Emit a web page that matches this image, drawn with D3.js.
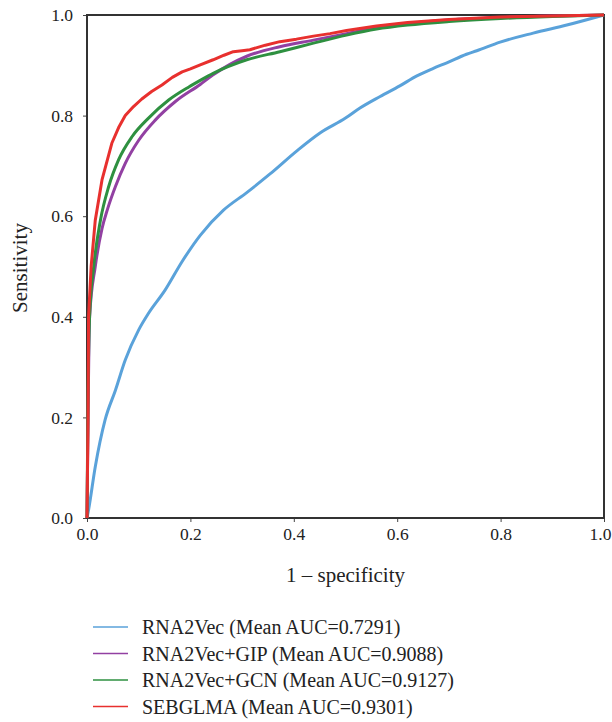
<!DOCTYPE html>
<html>
<head>
<meta charset="utf-8">
<script src="https://cdn.jsdelivr.net/npm/d3@7"></script>
<style>
  body { margin: 0; background: #fff; }
  svg text { font-family: "Liberation Serif", "DejaVu Serif", serif; fill: #222; }
</style>
</head>
<body>
<div id="chart"></div>
<script>
// ROC curves as [1 - specificity, sensitivity]
const rna2vec = [[0,0],[0.003,0.016],[0.016,0.102],[0.035,0.195],[0.055,0.254],[0.074,0.314],
  [0.100,0.374],[0.119,0.407],[0.151,0.453],[0.184,0.510],[0.219,0.562],[0.264,0.612],
  [0.309,0.647],[0.354,0.684],[0.406,0.730],[0.45,0.765],[0.50,0.795],[0.528,0.815],
  [0.567,0.838],[0.605,0.859],[0.638,0.879],[0.670,0.894],[0.696,0.905],[0.734,0.922],
  [0.754,0.929],[0.799,0.946],[0.863,0.964],[0.928,0.980],[1,1]];
const rna2vecGip = [[0,0],[0.002,0.2],[0.005,0.4],[0.016,0.5],[0.029,0.575],[0.040,0.615],
  [0.055,0.659],[0.074,0.705],[0.100,0.751],[0.132,0.791],[0.171,0.828],[0.219,0.862],
  [0.244,0.881],[0.309,0.918],[0.373,0.937],[0.438,0.950],[0.502,0.963],[0.560,0.975],
  [0.62,0.983],[0.70,0.990],[0.80,0.995],[0.90,0.998],[1,1]];
const rna2vecGcn = [[0,0],[0.002,0.25],[0.005,0.4],[0.013,0.5],[0.026,0.592],[0.042,0.659],
  [0.061,0.712],[0.087,0.758],[0.119,0.795],[0.158,0.831],[0.197,0.857],[0.219,0.870],
  [0.244,0.884],[0.309,0.911],[0.373,0.927],[0.438,0.944],[0.502,0.960],[0.560,0.972],
  [0.62,0.980],[0.70,0.987],[0.80,0.993],[0.90,0.997],[1,1]];
const sebglma = [[0,0],[0.002,0.2],[0.003,0.4],[0.008,0.5],[0.016,0.592],[0.029,0.672],
  [0.048,0.745],[0.062,0.778],[0.074,0.800],[0.090,0.818],[0.106,0.833],[0.125,0.848],
  [0.145,0.861],[0.165,0.876],[0.184,0.887],[0.200,0.893],[0.219,0.901],[0.244,0.911],
  [0.265,0.920],[0.283,0.927],[0.300,0.929],[0.315,0.931],[0.345,0.940],[0.373,0.947],
  [0.405,0.952],[0.438,0.958],[0.470,0.963],[0.502,0.969],[0.560,0.978],[0.62,0.985],
  [0.70,0.991],[0.80,0.996],[0.90,0.998],[1,1]];

const seriesNames = ["RNA2Vec (Mean AUC=0.7291)", "RNA2Vec+GIP (Mean AUC=0.9088)",
  "RNA2Vec+GCN (Mean AUC=0.9127)", "SEBGLMA (Mean AUC=0.9301)"];
const seriesData = [rna2vec, rna2vecGip, rna2vecGcn, sebglma];
const seriesColors = ["#5aa2da", "#9240a2", "#2e9040", "#e8302e"];
const tickValues = [0, 0.2, 0.4, 0.6, 0.8, 1.0];

const W = 612, H = 722;
const margin = { top: 15, right: 8, bottom: 204, left: 87 };
const width = W - margin.left - margin.right,
      height = H - margin.top - margin.bottom;

const svg = d3.select("#chart").append("svg")
  .attr("width", W)
  .attr("height", H);

const g = svg.append("g")
  .attr("transform", `translate(${margin.left},${margin.top})`);

const x = d3.scaleLinear().domain([0, 1]).range([0, width]);
const y = d3.scaleLinear().domain([0, 1]).range([height, 0]);

// axes
const xAxis = g.append("g")
  .attr("transform", `translate(0,${height})`)
  .call(d3.axisBottom(x).tickValues(tickValues).tickFormat(d3.format(".1f")).tickSize(4).tickPadding(6));
const yAxis = g.append("g")
  .call(d3.axisLeft(y).tickValues(tickValues).tickFormat(d3.format(".1f")).tickSize(4).tickPadding(10));

[xAxis, yAxis].forEach(a => {
  a.select(".domain").remove();
  a.selectAll("line").attr("stroke", "#444");
  a.selectAll("text").style("font-size", "17.5px").style("fill", "#222");
});
// last x label sits at the window edge, nudge it in a little
xAxis.selectAll(".tick text").filter(d => d === 1).attr("dx", "-4");

// frame
g.append("rect")
  .attr("width", width)
  .attr("height", height)
  .attr("fill", "none")
  .attr("stroke", "#333")
  .attr("stroke-width", 2);

// curves
const line = d3.line()
  .x(d => x(d[0]))
  .y(d => y(d[1]));

seriesData.forEach((s, i) => {
  g.append("path")
    .datum(s)
    .attr("fill", "none")
    .attr("stroke", seriesColors[i])
    .attr("stroke-width", 3)
    .attr("stroke-linejoin", "round")
    .attr("d", line.curve(i === 3 ? d3.curveLinear : d3.curveMonotoneX));
});

// axis titles
svg.append("text")
  .attr("x", margin.left + width / 2)
  .attr("y", 582)
  .attr("text-anchor", "middle")
  .style("font-size", "21px")
  .text("1 – specificity");

svg.append("text")
  .attr("transform", `translate(27,268) rotate(-90)`)
  .attr("text-anchor", "middle")
  .style("font-size", "21px")
  .text("Sensitivity");

// legend
const legend = svg.append("g").attr("transform", "translate(93,627)");
seriesNames.forEach((name, i) => {
  const row = legend.append("g").attr("transform", `translate(0,${i * 26.5})`);
  row.append("line")
    .attr("x1", 0).attr("x2", 35)
    .attr("stroke", seriesColors[i])
    .attr("stroke-width", 1.5);
  row.append("text")
    .attr("x", 49)
    .attr("dy", "0.35em")
    .style("font-size", "20px")
    .text(name);
});
</script>
</body>
</html>
